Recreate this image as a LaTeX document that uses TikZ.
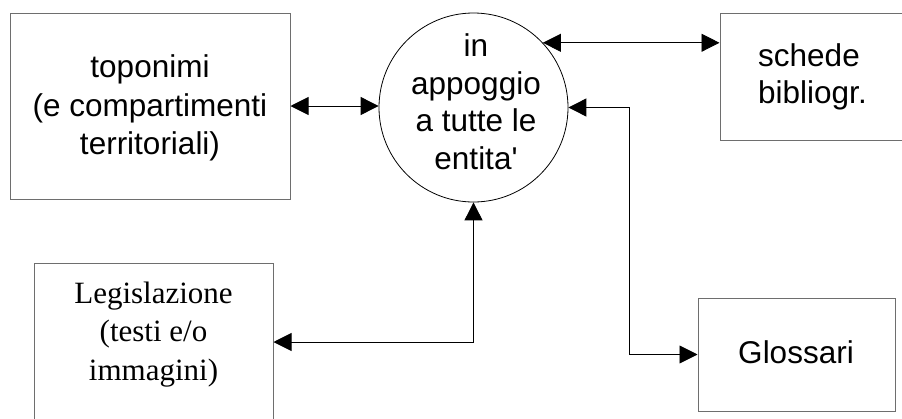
\documentclass[tikz,border=0pt]{standalone}
\usepackage{fontspec}
\setmainfont{Liberation Sans}[Ligatures=TeXOff]
\newfontfamily\serifface{Liberation Serif}
\usetikzlibrary{arrows.meta}
\definecolor{boxgray}{RGB}{110,110,110}
\tikzset{
  boxnode/.style={draw=boxgray, line width=1pt, rectangle, inner sep=0pt},
  circnode/.style={draw=black, line width=0.8pt, circle, inner sep=0pt, minimum size=189pt},
  txt/.style={align=center, inner sep=0pt, font=\fontsize{31.5}{37.5}\selectfont},
  conn/.style={draw=black, line width=0.9pt, {Triangle[length=18pt,width=18pt]}-{Triangle[length=18pt,width=18pt]}},
}
\begin{document}
\begin{tikzpicture}[x=1pt,y=-1pt]
\clip (0,0) rectangle (902,418);
\fill[white] (0,0) rectangle (902,418);
% shapes
\node[boxnode, minimum width=280pt, minimum height=186pt] (topo) at (150,106) {};
\node[circnode] (circ) at (473.5,107.5) {};
\node[boxnode, minimum width=185pt, minimum height=127pt] (sched) at (812.5,76.5) {};
\node[boxnode, minimum width=197pt, minimum height=113pt] (glos) at (796.5,354.5) {};
\node[boxnode, minimum width=239pt, minimum height=177pt] (legis) at (153.5,351.5) {};
% texts
\node[txt, font=\fontsize{31.5}{38.3}\selectfont] (topot) at (150,108) {toponimi\\(e compartimenti\\territoriali)};
\node[txt] (circt) at (476,101.5) {in\\appoggio\\a tutte le\\entita'};
\node[txt, align=left, anchor=west, font=\fontsize{31.5}{36.7}\selectfont] (schedt) at (758,77) {schede\\bibliogr.};
\node[txt] (glost) at (796,352.5) {Glossari};
\node[txt, font=\serifface\fontsize{31}{38.3}\selectfont] (legist) at (153.5,334.4) {Legislazione\\(testi e/o\\immagini)};
% connector helpers
\coordinate (kx) at (629,0);
\coordinate (ly) at (0,342);
% connectors
\draw[conn] (topo.east) -- (topo.east -| circ.west);
\draw[conn] (circ.43) -- (circ.43 -| sched.west);
\draw[conn] (circ.east) -- (circ.east -| kx) |- (glos.west);
\draw[conn] (circ.south) |- (legis.east |- ly);
\end{tikzpicture}
\end{document}
